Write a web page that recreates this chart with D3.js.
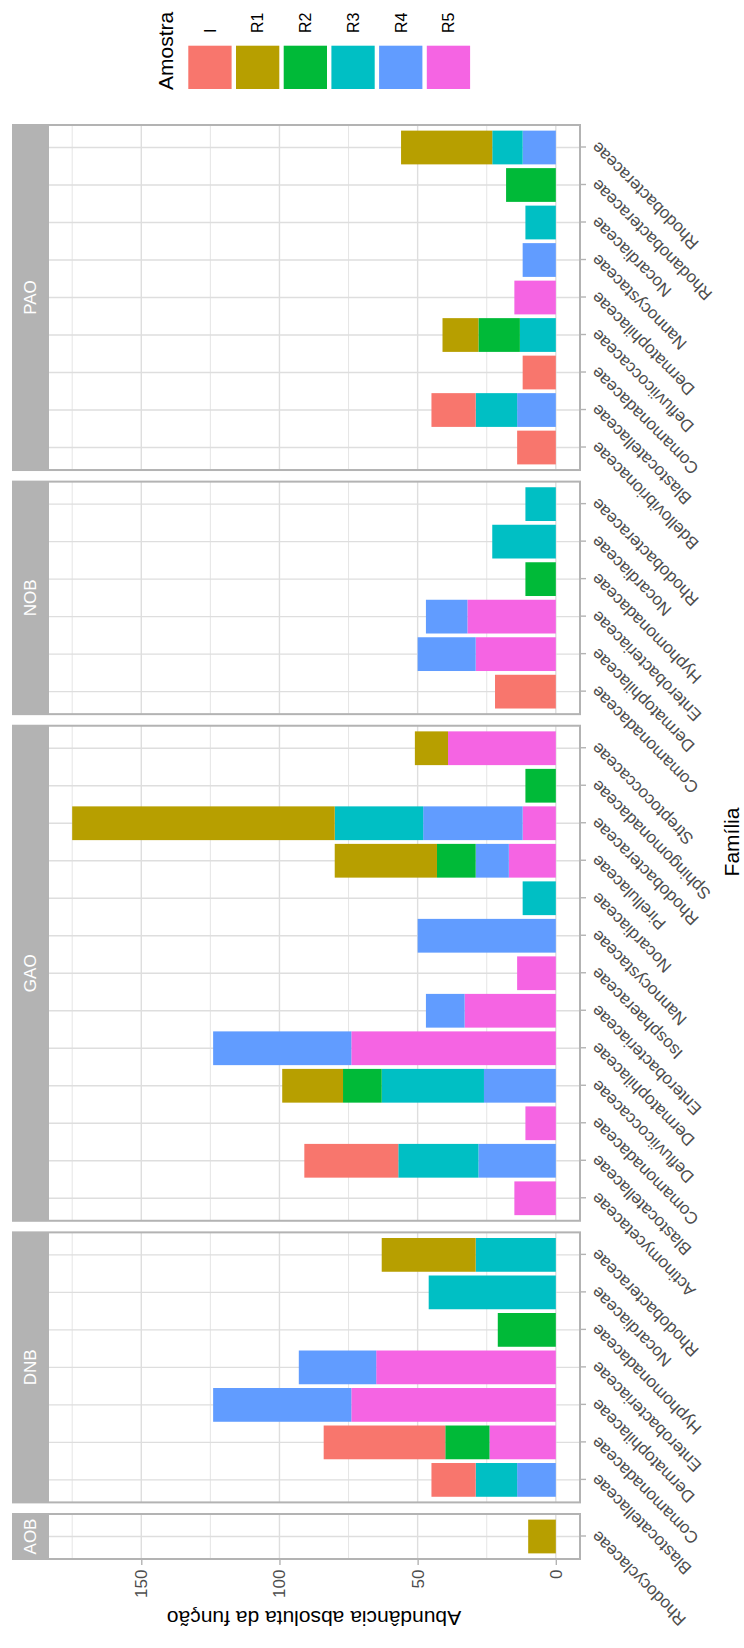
<!DOCTYPE html>
<html>
<head>
<meta charset="utf-8">
<script src="https://cdn.jsdelivr.net/npm/d3@7"></script>
<style>
  html, body { margin: 0; padding: 0; background: #ffffff; }
  svg { display: block; font-family: "Liberation Sans", Arial, Helvetica, sans-serif; }
</style>
</head>
<body>
<svg id="chart" width="744" height="1648"></svg>
<script>
// Samples (fill legend) and their colours
const samples = ["I", "R1", "R2", "R3", "R4", "R5"];
const sampleColors = ["#F8766D", "#B79F00", "#00BA38", "#00BFC4", "#619CFF", "#F564E3"];

// Functional groups shown as facets
const facets = ["AOB", "DNB", "GAO", "NOB", "PAO"];

// Value axis breaks
const valueTicks = [0, 50, 100, 150];
const minorTicks = [25, 75, 125, 175];

// Families per facet; each counts row follows the order of `samples`
const aobFamilies = ["Rhodocyclaceae"];
const aobCounts = [
  [0], [10], [0], [0], [0], [0]
];

const dnbFamilies = ["Blastocatellaceae", "Comamonadaceae", "Dermatophilaceae", "Enterobacteriaceae",
                     "Hyphomonadaceae", "Nocardiaceae", "Rhodobacteraceae"];
const dnbCounts = [
  [16, 44, 0, 0, 0, 0, 0],
  [0, 0, 0, 0, 0, 0, 34],
  [0, 16, 0, 0, 21, 0, 0],
  [15, 0, 0, 0, 0, 46, 29],
  [14, 0, 50, 28, 0, 0, 0],
  [0, 24, 74, 65, 0, 0, 0]
];

const gaoFamilies = ["Actinomycetaceae", "Blastocatellaceae", "Comamonadaceae", "Defluviicoccaceae",
                     "Dermatophilaceae", "Enterobacteriaceae", "Isosphaeraceae", "Nannocystaceae",
                     "Nocardiaceae", "Pirellulaceae", "Rhodobacteraceae", "Sphingomonadaceae",
                     "Streptococcaceae"];
const gaoCounts = [
  [0, 34, 0, 0, 0, 0, 0, 0, 0, 0, 0, 0, 0],
  [0, 0, 0, 22, 0, 0, 0, 0, 0, 37, 95, 0, 12],
  [0, 0, 0, 14, 0, 0, 0, 0, 0, 14, 0, 11, 0],
  [0, 29, 0, 37, 0, 0, 0, 0, 12, 0, 32, 0, 0],
  [0, 28, 0, 26, 50, 14, 0, 50, 0, 12, 36, 0, 0],
  [15, 0, 11, 0, 74, 33, 14, 0, 0, 17, 12, 0, 39]
];

const nobFamilies = ["Comamonadaceae", "Dermatophilaceae", "Enterobacteriaceae", "Hyphomonadaceae",
                     "Nocardiaceae", "Rhodobacteraceae"];
const nobCounts = [
  [22, 0, 0, 0, 0, 0],
  [0, 0, 0, 0, 0, 0],
  [0, 0, 0, 11, 0, 0],
  [0, 0, 0, 0, 23, 11],
  [0, 21, 15, 0, 0, 0],
  [0, 29, 32, 0, 0, 0]
];

const paoFamilies = ["Bdellovibrionaceae", "Blastocatellaceae", "Comamonadaceae", "Defluviicoccaceae",
                     "Dermatophilaceae", "Nannocystaceae", "Nocardiaceae", "Rhodanobacteraceae",
                     "Rhodobacteraceae"];
const paoCounts = [
  [14, 16, 12, 0, 0, 0, 0, 0, 0],
  [0, 0, 0, 13, 0, 0, 0, 0, 33],
  [0, 0, 0, 15, 0, 0, 0, 18, 0],
  [0, 15, 0, 13, 0, 0, 11, 0, 11],
  [0, 14, 0, 0, 0, 12, 0, 0, 12],
  [0, 0, 0, 0, 15, 0, 0, 0, 0]
];

const facetFamilies = [aobFamilies, dnbFamilies, gaoFamilies, nobFamilies, paoFamilies];
const facetCounts = [aobCounts, dnbCounts, gaoCounts, nobCounts, paoCounts];

// ---- build tidy rows per facet ----
const facetData = facets.map((name, k) => {
  const fams = facetFamilies[k];
  const counts = facetCounts[k];
  const rows = fams.map((fam, i) => {
    const r = { family: fam };
    samples.forEach((s, j) => { r[s] = counts[j][i]; });
    return r;
  });
  return { name, families: fams, rows };
});

// ---- page frame: the plot is laid out landscape and turned a quarter turn ----
const W = 1648, H = 744;
const svg = d3.select("#chart");
svg.append("rect").attr("width", 744).attr("height", 1648).attr("fill", "#ffffff");
const g = svg.append("g").attr("transform", `translate(0,${W}) rotate(-90)`);

// theme colours
const grey70 = "#B3B3B3", grey87 = "#DEDEDE", grey30 = "#4D4D4D";

// panel layout
const panelLeft = 89, panelRight = 1523, gap = 11.6;
const panelTop = 48, panelBottom = 580, stripTop = 12;
const totalUnits = d3.sum(facetData, f => f.families.length + 0.2);
const unit = (panelRight - panelLeft - gap * (facetData.length - 1)) / totalUnits;
let cursor = panelLeft;
facetData.forEach(f => {
  f.x0 = cursor;
  f.width = (f.families.length + 0.2) * unit;
  cursor += f.width + gap;
});

// shared value scale (5% expansion each side)
const stackKeys = samples.slice().reverse();
const stacker = d3.stack().keys(stackKeys);
facetData.forEach(f => { f.layers = stacker(f.rows); });
const maxTotal = d3.max(facetData, f => d3.max(f.rows, r => d3.sum(samples, s => r[s])));
const y = d3.scaleLinear()
  .domain([-0.05 * maxTotal, 1.05 * maxTotal])
  .range([panelBottom, panelTop]);

const colorOf = d3.scaleOrdinal().domain(samples).range(sampleColors);

facetData.forEach((f, k) => {
  const x = d3.scalePoint().domain(f.families).range([f.x0, f.x0 + f.width]).padding(0.6);
  const bw = x.step() * 0.9;
  const pg = g.append("g").attr("class", "panel");

  // panel background
  pg.append("rect").attr("x", f.x0).attr("y", panelTop)
    .attr("width", f.width).attr("height", panelBottom - panelTop).attr("fill", "#ffffff");

  // grid
  pg.selectAll("line.minor").data(minorTicks).join("line").attr("class", "minor")
    .attr("x1", f.x0).attr("x2", f.x0 + f.width)
    .attr("y1", d => y(d)).attr("y2", d => y(d))
    .attr("stroke", grey87).attr("stroke-width", 0.8);
  pg.selectAll("line.major").data(valueTicks).join("line").attr("class", "major")
    .attr("x1", f.x0).attr("x2", f.x0 + f.width)
    .attr("y1", d => y(d)).attr("y2", d => y(d))
    .attr("stroke", grey87).attr("stroke-width", 1.4);
  pg.selectAll("line.cat").data(f.families).join("line").attr("class", "cat")
    .attr("x1", d => x(d)).attr("x2", d => x(d))
    .attr("y1", panelTop).attr("y2", panelBottom)
    .attr("stroke", grey87).attr("stroke-width", 1.4);

  // stacked bars
  f.layers.forEach(layer => {
    pg.append("g").attr("fill", colorOf(layer.key))
      .selectAll("rect").data(layer.filter(d => d[1] > d[0])).join("rect")
      .attr("x", d => x(d.data.family) - bw / 2)
      .attr("width", bw)
      .attr("y", d => y(d[1]))
      .attr("height", d => y(d[0]) - y(d[1]));
  });

  // panel border
  pg.append("rect").attr("x", f.x0).attr("y", panelTop)
    .attr("width", f.width).attr("height", panelBottom - panelTop)
    .attr("fill", "none").attr("stroke", grey70).attr("stroke-width", 2);

  // strip
  pg.append("rect").attr("x", f.x0 - 1).attr("y", stripTop)
    .attr("width", f.width + 2).attr("height", panelTop - stripTop - 1).attr("fill", grey70);
  pg.append("text").attr("x", f.x0 + f.width / 2).attr("y", (stripTop + panelTop) / 2)
    .attr("dy", "0.36em").attr("text-anchor", "middle")
    .attr("fill", "#ffffff").attr("font-size", 17).text(f.name);

  // category axis
  const ax = g.append("g").attr("transform", `translate(0,${panelBottom + 1})`)
    .call(d3.axisBottom(x).tickSize(5).tickPadding(0));
  ax.select(".domain").remove();
  ax.selectAll(".tick line").attr("stroke", grey70).attr("stroke-width", 1.4);
  ax.selectAll(".tick text")
    .attr("y", 0).attr("dy", "0.35em")
    .attr("transform", "translate(2,13) rotate(-45)")
    .attr("text-anchor", "end")
    .attr("fill", grey30).attr("font-size", 17)
    .attr("font-family", "Liberation Sans, Arial, Helvetica, sans-serif");

  // value axis on the first panel only
  if (k === 0) {
    const ay = g.append("g").attr("transform", `translate(${f.x0 - 1},0)`)
      .call(d3.axisLeft(y).tickValues(valueTicks).tickSize(5).tickPadding(4.5));
    ay.select(".domain").remove();
    ay.selectAll(".tick line").attr("stroke", grey70).attr("stroke-width", 1.4);
    ay.selectAll(".tick text").attr("fill", grey30).attr("font-size", 17)
      .attr("font-family", "Liberation Sans, Arial, Helvetica, sans-serif");
  }
});

// axis titles
g.append("text")
  .attr("transform", `translate(37,${(panelTop + panelBottom) / 2}) rotate(-90)`)
  .attr("text-anchor", "middle").attr("font-size", 21).attr("fill", "#000000")
  .text("Abundância absoluta da função");
g.append("text")
  .attr("x", (panelLeft + panelRight) / 2).attr("y", 739)
  .attr("text-anchor", "middle").attr("font-size", 21).attr("fill", "#000000")
  .text("Família");

// legend
const legend = g.append("g").attr("transform", "translate(1559,0)");
legend.append("text").attr("x", -1).attr("y", 173)
  .attr("font-size", 21).attr("fill", "#000000").text("Amostra");
const keyStep = 47.7, keySize = 43.3, keyTop = 188.3;
legend.selectAll("rect.key").data(samples).join("rect").attr("class", "key")
  .attr("x", 0).attr("y", (d, i) => keyTop + i * keyStep)
  .attr("width", keySize).attr("height", keySize)
  .attr("fill", d => colorOf(d));
legend.selectAll("text.lab").data(samples).join("text").attr("class", "lab")
  .attr("x", 56).attr("y", (d, i) => keyTop + i * keyStep + keySize / 2)
  .attr("dy", "0.36em").attr("font-size", 16).attr("fill", "#000000")
  .text(d => d);
</script>
</body>
</html>
